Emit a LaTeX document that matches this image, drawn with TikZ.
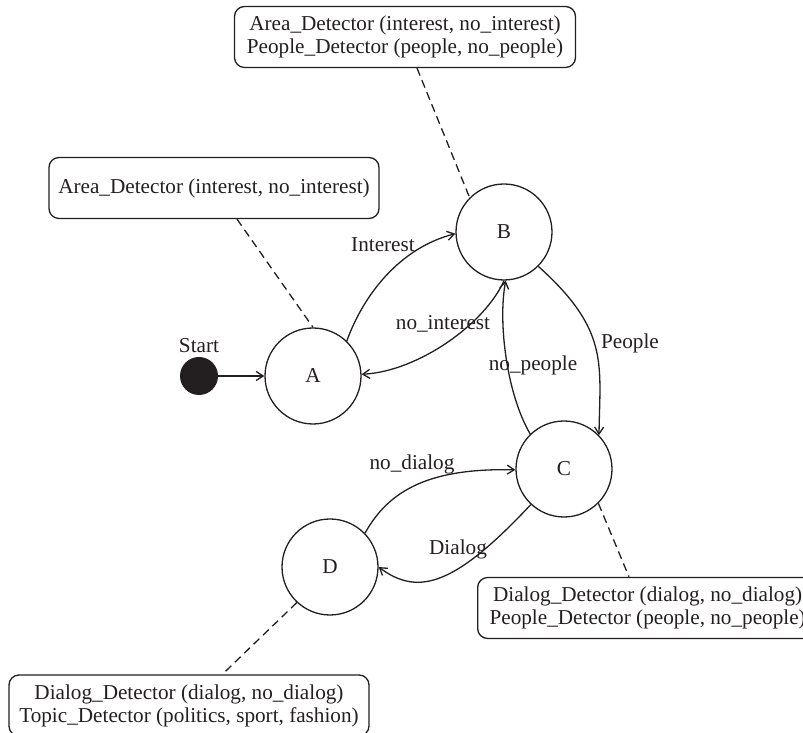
\documentclass[tikz,border=0pt]{standalone}
\usepackage{fontspec}
\setmainfont{Liberation Serif}
\usetikzlibrary{arrows.meta,calc}
\definecolor{ink}{RGB}{35,31,32}
\begin{document}
\begin{tikzpicture}[x=0.5pt,y=0.5pt,
  every node/.style={font=\fontsize{10.6}{11.5}\selectfont, text=ink},
  state/.style={circle, draw=ink, line width=0.65pt, minimum size=48pt, inner sep=0pt},
  startdot/.style={circle, fill=ink, minimum size=19pt, inner sep=0pt},
  notebox/.style={draw=ink, line width=0.65pt, rounded corners=5pt,
    minimum height=30.5pt, align=center, inner sep=2pt},
  trans/.style={draw=ink, line width=0.65pt, -{Straight Barb[length=3.5pt,width=4.5pt]}},
  link/.style={draw=ink, line width=0.65pt, dash pattern=on 4pt off 2.5pt},
  lbl/.style={inner sep=0pt}
]
\useasboundingbox (0,0) rectangle (803,733);

% states
\node[startdot] (S) at (199,357) {};
\node[lbl] (Slbl) at (199,387) {Start};
\node[state] (A) at (313,357) {A};
\node[state] (B) at (504,501) {B};
\node[state] (C) at (564,264) {C};
\node[state] (D) at (330,166) {D};

% detector notes
\node[notebox, minimum width=170.5pt] (nB) at (405,696)
  {Area\_Detector (interest, no\_interest)\\People\_Detector (people, no\_people)};
\node[notebox, minimum width=165pt] (nA) at (214,545)
  {Area\_Detector (interest, no\_interest)};
\node[notebox, minimum width=170pt, anchor=west] (nC) at (477,125)
  {Dialog\_Detector (dialog, no\_dialog)\\People\_Detector (people, no\_people)};
\node[notebox, minimum width=180pt] (nD) at (189,27.5)
  {Dialog\_Detector (dialog, no\_dialog)\\Topic\_Detector (politics, sport, fashion)};

% note links
\draw[link] ($(nB.south)+(12,0)$) -- (B.135);
\draw[link] ($(nA.south)+(23,0)$) -- (A.90);
\draw[link] (C.-45) -- ($(nC.north west)+(152,0)$);
\draw[link] (D.227) -- ($(nD.north west)+(214,0)$);

% transitions
\draw[trans] (S) -- (A);
\draw[trans] (A.46) .. controls +(17,47) and +(-55,-14) .. (B.182);
\draw[trans] (B.270) .. controls +(-19,-43) and +(57,3) .. (A.2);
\draw[trans] (C.134) .. controls +(-23,39) and +(-8,-43) .. (B.272);
\draw[trans] (B.-45) .. controls +(71,-64) and +(1,72) .. (C.44);
\draw[trans] (D.44) .. controls +(24,43.5) and +(-85,2) .. (C.181);
\draw[trans] (C.227) .. controls +(-75,-80) and +(40,-30) .. (D.0);

% transition labels
\node[lbl] (lInt) at (383,488) {Interest};
\node[lbl] (lNoInt) at (443,409) {no\_interest};
\node[lbl] (lNoPpl) at (533,368) {no\_people};
\node[lbl] (lPpl) at (630,390) {People};
\node[lbl] (lNoDlg) at (412,269) {no\_dialog};
\node[lbl] (lDlg) at (458,184) {Dialog};
\end{tikzpicture}
\end{document}
